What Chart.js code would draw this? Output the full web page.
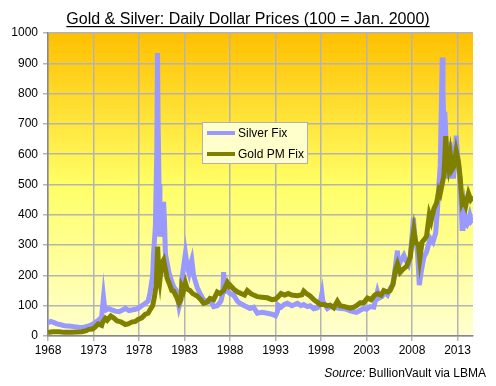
<!DOCTYPE html>
<html>
<head>
<meta charset="utf-8">
<script src="https://cdn.jsdelivr.net/npm/chart.js@4/dist/chart.umd.min.js"></script>
<style>
  html, body { margin: 0; padding: 0; background: #fff; }
  #wrap { width: 496px; height: 386px; }
</style>
</head>
<body>
<div id="wrap"><canvas id="chart"></canvas></div>
<script>
const titleText = "Gold & Silver: Daily Dollar Prices (100 = Jan. 2000)";
const xTickYears = [1968, 1973, 1978, 1983, 1988, 1993, 1998, 2003, 2008, 2013];

// silver fix, rebased 100 = Jan 2000
const silverYears = [1968.0, 1968.3, 1968.6, 1969.0, 1969.4, 1969.8, 1970.3, 1970.8, 1971.4, 1971.9,
  1972.5, 1973.0, 1973.3, 1973.7, 1973.9, 1974.1, 1974.2, 1974.4, 1974.7, 1975.0, 1975.4, 1975.8,
  1976.2, 1976.5, 1976.9, 1977.2, 1977.6, 1977.9, 1978.3, 1978.7, 1979.0, 1979.2, 1979.5, 1979.6,
  1979.8, 1979.95, 1980.03, 1980.1, 1980.2, 1980.3, 1980.5, 1980.7, 1980.8, 1980.9, 1981.1, 1981.3,
  1981.6, 1981.8, 1982.1, 1982.4, 1982.6, 1982.7, 1982.9, 1983.1, 1983.3, 1983.5, 1983.7, 1983.8,
  1984.0, 1984.2, 1984.4, 1984.7, 1985.1, 1985.5, 1985.8, 1986.2, 1986.6, 1987.0, 1987.2, 1987.3,
  1987.4, 1987.7, 1988.0, 1988.4, 1988.8, 1989.1, 1989.6, 1990.2, 1990.6, 1991.0, 1991.5, 1992.1,
  1992.6, 1993.0, 1993.2, 1993.3, 1993.6, 1994.0, 1994.3, 1994.8, 1995.4, 1995.8, 1996.1, 1996.5,
  1996.8, 1997.2, 1997.6, 1997.9, 1998.1, 1998.2, 1998.5, 1998.7, 1999.0, 1999.5, 2000.1, 2000.6,
  2001.2, 2001.6, 2001.9, 2002.3, 2002.7, 2003.0, 2003.4, 2003.8, 2004.0, 2004.2, 2004.4, 2004.7,
  2004.9, 2005.3, 2005.6, 2005.9, 2006.0, 2006.3, 2006.4, 2006.5, 2006.7, 2007.1, 2007.3, 2007.6,
  2007.8, 2008.0, 2008.15, 2008.3, 2008.6, 2008.8, 2009.0, 2009.3, 2009.6, 2010.0, 2010.3, 2010.6,
  2010.8, 2010.95, 2011.1, 2011.2, 2011.32, 2011.4, 2011.5, 2011.6, 2011.7, 2011.85, 2012.0, 2012.15,
  2012.25, 2012.4, 2012.55, 2012.75, 2012.85, 2013.0, 2013.2, 2013.35, 2013.5, 2013.6, 2013.7,
  2013.85, 2014.0, 2014.2, 2014.35, 2014.5, 2014.7];
const silverValues = [44, 48, 45, 40, 37, 34, 33, 31, 29, 28,
  33, 40, 47, 56, 64, 128, 100, 86, 90, 86, 82, 80,
  86, 91, 84, 86, 88, 91, 100, 108, 115, 141, 200, 273,
  361, 600, 934, 700, 500, 328, 383, 443, 380, 271, 240, 208,
  180, 163, 150, 97, 120, 185, 230, 273, 230, 208, 240, 251,
  200, 180, 160, 140, 119, 115, 118, 97, 100, 115, 140, 211,
  146, 150, 140, 135, 115, 108, 100, 91, 95, 75, 78, 75,
  72, 67, 80, 102, 95, 105, 108, 100, 108, 100, 104, 97,
  100, 90, 93, 110, 140, 115, 100, 91, 97, 95, 91, 90,
  83, 80, 78, 85, 91, 88, 97, 95, 120, 146, 125, 130,
  146, 135, 157, 170, 189, 260, 282, 230, 244, 266, 250, 235,
  260, 330, 390, 330, 278, 168, 210, 260, 278, 322, 310, 340,
  420, 498, 563, 720, 919, 800, 700, 740, 672, 560, 520, 640,
  620, 560, 520, 600, 661, 596, 541, 470, 355, 400, 420,
  370, 366, 380, 398, 380, 388];

// gold pm fix, rebased 100 = Jan 2000
const goldYears = [1968.0, 1968.3, 1968.6, 1969.2, 1969.8, 1970.6, 1971.2, 1971.7, 1972.2, 1972.5,
  1972.9, 1973.2, 1973.5, 1973.9, 1974.0, 1974.3, 1974.5, 1974.9, 1975.2, 1975.6, 1976.0, 1976.5,
  1976.8, 1977.2, 1977.6, 1977.9, 1978.3, 1978.7, 1979.0, 1979.2, 1979.5, 1979.7, 1979.9, 1980.05,
  1980.15, 1980.3, 1980.5, 1980.7, 1980.9, 1981.1, 1981.3, 1981.6, 1981.8, 1982.1, 1982.4, 1982.6,
  1982.7, 1982.9, 1983.1, 1983.3, 1983.6, 1983.9, 1984.2, 1984.4, 1984.8, 1985.1, 1985.5, 1985.8,
  1986.2, 1986.6, 1986.9, 1987.3, 1987.7, 1987.9, 1988.0, 1988.4, 1988.8, 1989.2, 1989.6, 1989.9,
  1990.3, 1990.6, 1991.0, 1991.5, 1992.1, 1992.6, 1993.0, 1993.3, 1993.6, 1994.0, 1994.4, 1994.8,
  1995.4, 1995.9, 1996.1, 1996.4, 1996.8, 1997.2, 1997.6, 1997.9, 1998.3, 1998.7, 1999.0, 1999.4,
  1999.8, 2000.1, 2000.6, 2001.2, 2001.6, 2001.9, 2002.3, 2002.7, 2003.1, 2003.5, 2003.9, 2004.2,
  2004.6, 2004.9, 2005.3, 2005.6, 2005.9, 2006.2, 2006.4, 2006.7, 2007.0, 2007.4, 2007.8, 2008.0,
  2008.2, 2008.4, 2008.7, 2008.85, 2009.1, 2009.4, 2009.6, 2009.9, 2010.1, 2010.4, 2010.7, 2010.95,
  2011.1, 2011.5, 2011.6, 2011.7, 2011.8, 2012.0, 2012.2, 2012.4, 2012.6, 2012.85, 2013.1, 2013.3,
  2013.5, 2013.65, 2013.9, 2014.0, 2014.2, 2014.45, 2014.7];
const goldValues = [11, 13, 14, 14, 12, 12, 13, 14, 18, 22,
  23, 30, 40, 35, 45, 58, 52, 66, 60, 50, 47, 38,
  40, 46, 48, 55, 60, 72, 75, 86, 100, 130, 170, 295,
  220, 185, 240, 251, 220, 190, 175, 150, 148, 130, 109, 120,
  163, 150, 175, 155, 150, 140, 135, 132, 120, 108, 112, 124,
  120, 145, 140, 150, 176, 165, 168, 155, 146, 140, 135, 150,
  140, 135, 130, 128, 126, 120, 122, 130, 140, 135, 140, 135,
  133, 136, 148, 140, 132, 120, 111, 104, 104, 100, 102, 93,
  115, 100, 97, 92, 95, 100, 110, 110, 125, 120, 135, 140,
  135, 150, 145, 150, 170, 220, 238, 210, 220, 230, 260, 310,
  350, 310, 300, 255, 310, 320, 330, 400, 380, 420, 440, 480,
  470, 530, 590, 660, 600, 560, 600, 550, 560, 610, 575, 520,
  440, 450, 430, 445, 470, 450, 460];

const toPoints = (xs, ys) => xs.map((x, i) => ({ x: x, y: ys[i] }));

const bgPlugin = {
    id: "plotBackground",
    beforeDraw: (chart) => {
        const { ctx, chartArea: a } = chart;
        const g = ctx.createLinearGradient(0, a.top, 0, a.bottom);
        g.addColorStop(0, "#ffc000");
        g.addColorStop(0.5, "#ffff66");
        g.addColorStop(1, "#ffffd0");
        ctx.save();
        ctx.fillStyle = g;
        ctx.fillRect(a.left, a.top, a.right - a.left, a.bottom - a.top);
        ctx.restore();
    },
};

const textPlugin = {
    id: "titleSourceLegend",
    afterDraw: (chart) => {
        const { ctx } = chart;
        ctx.save();
        // title, underlined
        ctx.font = "16px 'Liberation Sans', Arial, sans-serif";
        ctx.fillStyle = "#000";
        ctx.textAlign = "center";
        ctx.textBaseline = "alphabetic";
        ctx.fillText(titleText, 248, 24);
        const w = ctx.measureText(titleText).width;
        ctx.fillRect(248 - w / 2, 26, w, 1.2);

        // source line
        ctx.font = "12px 'Liberation Sans', Arial, sans-serif";
        const rest = " BullionVault via LBMA";
        const rw = ctx.measureText(rest).width;
        ctx.textAlign = "right";
        ctx.fillText(rest, 486, 377);
        ctx.font = "italic 12px 'Liberation Sans', Arial, sans-serif";
        ctx.fillText("Source:", 486 - rw, 377);

        // legend box
        const lx = 202, ly = 122, lw = 105, lh = 41;
        ctx.fillStyle = "#ffffcc";
        ctx.fillRect(lx, ly, lw, lh);
        ctx.strokeStyle = "#b0b0b0";
        ctx.lineWidth = 1;
        ctx.strokeRect(lx + 0.5, ly + 0.5, lw, lh);
        ctx.font = "12px 'Liberation Sans', Arial, sans-serif";
        ctx.textAlign = "left";
        ctx.textBaseline = "middle";
        const items = [chart.data.datasets[0], chart.data.datasets[1]];
        items.forEach((ds, i) => {
            const y = ly + 11 + i * 21;
            ctx.strokeStyle = ds.borderColor;
            ctx.lineWidth = 4;
            ctx.beginPath();
            ctx.moveTo(lx + 5, y);
            ctx.lineTo(lx + 33, y);
            ctx.stroke();
            ctx.fillStyle = "#000";
            ctx.fillText(ds.label, lx + 36, y + 1);
        });
        ctx.restore();
    },
};

new Chart(document.getElementById("chart"), {
    type: "line",
    data: {
        datasets: [
            {
                label: "Silver Fix",
                data: toPoints(silverYears, silverValues),
                borderColor: "#9999ff",
                borderWidth: 5,
                pointRadius: 0,
                order: 1,
            },
            {
                label: "Gold PM Fix",
                data: toPoints(goldYears, goldValues),
                borderColor: "#808000",
                borderWidth: 5,
                pointRadius: 0,
                order: 0,
            },
        ],
    },
    options: {
        responsive: true,
        maintainAspectRatio: false,
        animation: false,
        layout: { padding: { top: 33, right: 23, left: 0, bottom: 20 } },
        plugins: {
            legend: false,
            tooltip: { enabled: false },
        },
        scales: {
            x: {
                type: "linear",
                min: 1968,
                max: 2014.7,
                afterBuildTicks: (s) => { s.ticks = xTickYears.map(v => ({ value: v })); },
                afterFit: (s) => { s.height = 30; },
                ticks: {
                    callback: (v) => String(v),
                    color: "#000",
                    font: { family: "'Liberation Sans', Arial", size: 12 },
                    padding: 2,
                    maxRotation: 0,
                    autoSkip: false,
                },
                grid: { color: "#b4b4b4", lineWidth: 1.5, tickLength: 5 },
                border: { color: "#888", width: 1.5 },
            },
            y: {
                min: 0,
                max: 1000,
                afterFit: (s) => { s.width = 48; },
                ticks: {
                    stepSize: 100,
                    callback: (v) => String(v),
                    color: "#000",
                    font: { family: "'Liberation Sans', Arial", size: 12 },
                    padding: 5,
                },
                grid: { color: "#b4b4b4", lineWidth: 1.5, tickLength: 5 },
                border: { color: "#888", width: 1.5 },
            },
        },
    },
    plugins: [bgPlugin, textPlugin],
});
</script>
</body>
</html>
